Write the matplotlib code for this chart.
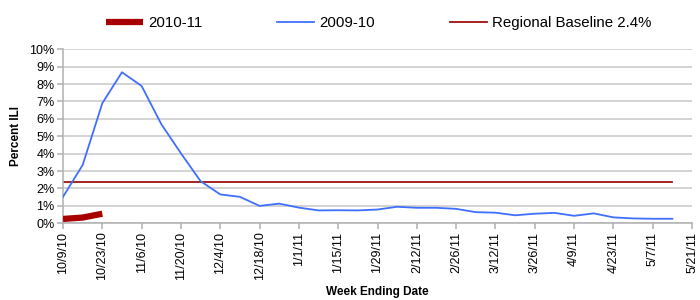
import numpy as np
import pandas as pd
import matplotlib
matplotlib.use('Agg')
import matplotlib.pyplot as plt
import matplotlib.dates as mdates

plt.rcParams['font.family'] = ['Liberation Sans', 'DejaVu Sans']

# weekly data, week ending dates starting 10/9/10
week_start = '2010-10-09'
ili_2010_11 = [0.25, 0.33, 0.55]
ili_2009_10 = [1.52, 3.35, 6.9, 8.68, 7.89, 5.7, 4.02, 2.42, 1.66, 1.52,
               1.0, 1.13, 0.9, 0.74, 0.75, 0.74, 0.79, 0.95, 0.89, 0.89,
               0.83, 0.64, 0.61, 0.46, 0.55, 0.6, 0.43, 0.57, 0.34, 0.28,
               0.26, 0.26]
baseline = 2.4
axis_end = '2011-05-21'

weeks = pd.date_range(week_start, periods=len(ili_2009_10), freq='7D')
ticks = pd.date_range(week_start, axis_end, freq='14D')

fig = plt.figure(figsize=(7, 3), dpi=100)
ax = fig.add_axes([0.09, 0.2557, 0.8986, 0.58])

ax.plot(weeks, ili_2009_10, color='#3f6fff', lw=1.3, label='2009-10', zorder=3)
ax.plot(weeks, [baseline] * len(weeks), color='#a01010', lw=1.3,
        label='Regional Baseline 2.4%', zorder=2)
ax.plot(weeks[:len(ili_2010_11)], ili_2010_11, color='#a80000', lw=4.5,
        solid_capstyle='butt', label='2010-11', zorder=4)

ax.set_xlim(pd.Timestamp(week_start), pd.Timestamp(axis_end))
ax.set_ylim(0, 10)
ax.set_yticks(range(0, 11))
ax.set_yticklabels([f'{v}%' for v in range(0, 11)], fontsize=9)
ax.set_xticks(ticks)
ax.set_xticklabels([f'{d.month}/{d.day}/{d.strftime("%y")}' for d in ticks],
                   rotation=90, fontsize=9)

ax.grid(axis='y', color='#c8c8c8', lw=1.1)
ax.set_axisbelow(True)
for s in ['top', 'right']:
    ax.spines[s].set_visible(False)
for s in ['left', 'bottom']:
    ax.spines[s].set_color('#b0b0b0')
    ax.spines[s].set_linewidth(1.1)
ax.tick_params(axis='both', color='#b0b0b0', width=1.1, length=4, pad=2)

ax.set_ylabel('Percent ILI', fontsize=8.5, fontweight='bold', labelpad=5)
ax.set_xlabel('Week Ending Date', fontsize=8.5, fontweight='bold', labelpad=4)

h, l = ax.get_legend_handles_labels()
order = [2, 0, 1]
fig.legend([h[i] for i in order], [l[i] for i in order], loc='center',
           bbox_to_anchor=(0.541, 0.922), ncol=3, frameon=False, fontsize=10.8,
           handlelength=2.45, handletextpad=0.35, columnspacing=5.0)

fig.savefig('out.png', dpi=100)
